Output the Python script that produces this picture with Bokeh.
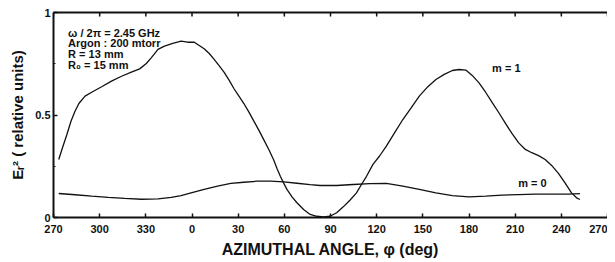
import math
from bokeh.plotting import figure
from bokeh.models import LinearAxis, FixedTicker, Range1d, ColumnDataSource
from bokeh.core.properties import value
from bokeh.embed import file_html
from bokeh.resources import INLINE

# ---- data (angles in degrees; 270..330 shown as -90..-30) ----
m1_phi = [-86.6, -83.9, -81.3, -78.7, -76.1, -73.5, -69.5, -65.2, -58.7, -52.3, -45.8, -39.4,
          -34.0, -29.7, -26.5, -22.1, -17.9, -12.5, -7.1, -2.8, 1.5, 3.7, 7.9, 11.2, 14.4, 17.6,
          20.8, 24.1, 27.3, 30.5, 33.7, 37.0, 40.2, 43.4, 46.6, 49.9, 53.1, 55.3, 57.4, 59.5,
          61.7, 65.0, 68.2, 72.5, 76.8, 81.1, 85.4, 89.7, 94.0, 98.3, 102.6, 106.9, 110.1,
          113.4, 117.6, 121.9, 126.3, 131.6, 137.0, 142.4, 147.7, 153.1, 158.5, 163.9, 169.2,
          173.5, 177.9, 182.1, 186.5, 190.8, 195.0, 199.4, 203.7, 207.9, 212.3, 216.6, 220.8,
          225.2, 229.5, 233.7, 238.1, 242.4, 246.6, 249.9, 252.1]
m1_val = [0.283, 0.346, 0.405, 0.468, 0.517, 0.556, 0.592, 0.611, 0.638, 0.665, 0.689, 0.709,
          0.725, 0.751, 0.779, 0.820, 0.836, 0.849, 0.860, 0.855, 0.855, 0.844, 0.823, 0.800,
          0.771, 0.741, 0.709, 0.670, 0.628, 0.592, 0.556, 0.514, 0.470, 0.426, 0.380, 0.332,
          0.280, 0.238, 0.201, 0.169, 0.137, 0.101, 0.072, 0.039, 0.015, 0.006, 0.003, 0.006,
          0.023, 0.052, 0.084, 0.120, 0.161, 0.201, 0.259, 0.300, 0.348, 0.413, 0.478, 0.535,
          0.592, 0.637, 0.673, 0.698, 0.717, 0.722, 0.719, 0.693, 0.657, 0.611, 0.562, 0.511,
          0.459, 0.410, 0.364, 0.332, 0.316, 0.302, 0.283, 0.254, 0.215, 0.169, 0.120, 0.096,
          0.088]

m0_phi = [-86.6, -75.9, -65.2, -54.4, -43.7, -32.9, -22.1, -13.5, -7.1, -0.6, 7.9, 16.6, 25.2,
          33.7, 42.4, 51.0, 59.5, 68.2, 76.8, 83.2, 94.0, 104.7, 115.5, 126.3, 137.0, 147.7,
          158.5, 169.2, 180.0, 190.8, 201.5, 212.3, 223.0, 233.7, 244.5, 252.1]
m0_val = [0.117, 0.111, 0.104, 0.098, 0.093, 0.089, 0.091, 0.098, 0.107, 0.120, 0.137, 0.153,
          0.166, 0.172, 0.177, 0.177, 0.174, 0.167, 0.160, 0.156, 0.156, 0.161, 0.165, 0.166,
          0.153, 0.137, 0.120, 0.107, 0.101, 0.104, 0.109, 0.112, 0.114, 0.114, 0.114, 0.116]

x_ticks = [-90, -60, -30, 0, 30, 60, 90, 120, 150, 180, 210, 240, 270]
x_tick_labels = ["270", "300", "330", "0", "30", "60", "90", "120", "150", "180", "210", "240", "270"]
y_ticks = [0, 0.5, 1]
y_tick_labels = ["0", "0.5", "1"]

info_lines = ["ω / 2π = 2.45 GHz", "Argon : 200 mtorr", "R = 13 mm", "R₀ = 15 mm"]
info_x = [-80.5, -80.5, -80.5, -80.5]
info_y = [0.902, 0.851, 0.800, 0.746]

curve_labels = ["m = 1", "m = 0"]
curve_label_x = [195.0, 212.0]
curve_label_y = [0.727, 0.166]

FONT = "Liberation Sans"
INK = "#111111"

p = figure(width=607, height=260, output_backend="svg", toolbar_location=None,
           x_range=Range1d(-90, 270), y_range=Range1d(0, 1),
           min_border_left=53, min_border_right=0, min_border_top=12, min_border_bottom=43)
p.outline_line_color = None
p.grid.grid_line_color = None
p.background_fill_color = "white"
p.border_fill_color = "white"

p.line(m1_phi, m1_val, line_color=INK, line_width=1.3)
p.line(m0_phi, m0_val, line_color=INK, line_width=1.3)

# axes
xa = p.xaxis[0]
xa.ticker = FixedTicker(ticks=x_ticks)
xa.major_label_overrides = {t: l for t, l in zip(x_ticks, x_tick_labels)}
xa.axis_label = "AZIMUTHAL ANGLE, φ (deg)"
ya = p.yaxis[0]
ya.ticker = FixedTicker(ticks=y_ticks, minor_ticks=[0.25, 0.75])
ya.major_label_overrides = {t: l for t, l in zip(y_ticks, y_tick_labels)}
ya.axis_label = "Eᵣ² ( relative units)"

for ax in (xa, ya):
    ax.axis_line_width = 2
    ax.axis_line_color = INK
    ax.major_tick_in = 4
    ax.major_tick_out = 0
    ax.minor_tick_in = 2
    ax.minor_tick_out = 0
    ax.major_tick_line_width = 1.5
    ax.major_tick_line_color = INK
    ax.minor_tick_line_color = INK
    ax.major_label_text_font = FONT
    ax.major_label_text_font_style = "bold"
    ax.major_label_text_font_size = "11px"
    ax.major_label_text_color = INK
    ax.axis_label_text_font = FONT
    ax.axis_label_text_font_style = "bold"
    ax.axis_label_text_color = INK
xa.major_label_standoff = 7
xa.axis_label_standoff = 5
xa.axis_label_text_font_size = "16px"
ya.major_label_standoff = 3
ya.axis_label_standoff = 6
ya.axis_label_text_font_size = "15px"
ya.major_label_orientation = "horizontal"

# top frame line (no labels) with inward tick marks at the same angles
top = LinearAxis(ticker=FixedTicker(ticks=[]), axis_line_width=2, axis_line_color=INK,
                 major_tick_line_color=None, minor_tick_line_color=None)
p.add_layout(top, "above")
p.scatter(x_ticks, [1] * len(x_ticks), marker="dash", angle=math.pi / 2, size=8,
          line_color=INK, line_width=1.5)

src_info = ColumnDataSource(dict(x=info_x, y=info_y, t=info_lines))
p.text("x", "y", text="t", source=src_info, text_font=value(FONT), text_font_style="bold",
       text_font_size="11px", text_baseline="middle", text_align="left", text_color=INK)

src_lab = ColumnDataSource(dict(x=curve_label_x, y=curve_label_y, t=curve_labels))
p.text("x", "y", text="t", source=src_lab, text_font=value(FONT), text_font_style="bold",
       text_font_size="11px", text_baseline="middle", text_align="left", text_color=INK)

open("out.html", "w").write(file_html(p, INLINE))
